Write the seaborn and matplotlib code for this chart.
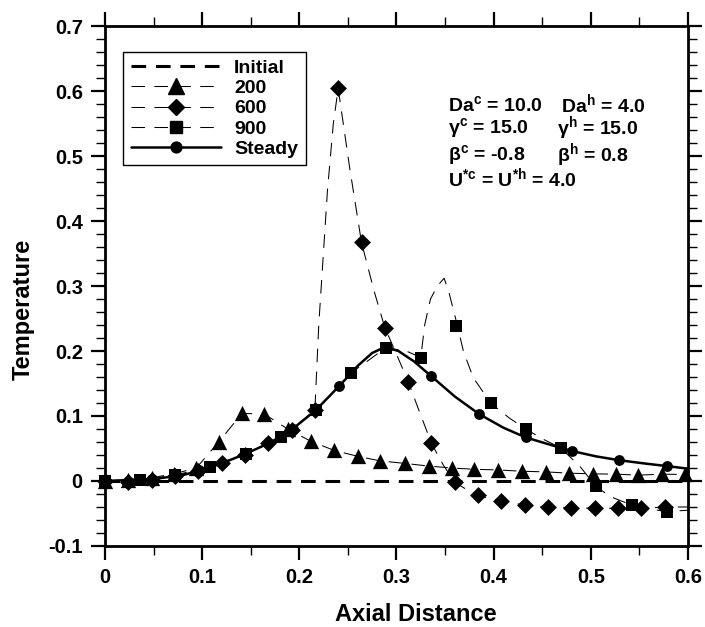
import numpy as np
import pandas as pd
import matplotlib
matplotlib.use("Agg")
import matplotlib.pyplot as plt
from matplotlib.lines import Line2D
from matplotlib.ticker import MultipleLocator
import seaborn as sns

# ---------------- data ----------------
x_ticks = [0, 0.1, 0.2, 0.3, 0.4, 0.5, 0.6]
x_tick_labels = ["0", "0.1", "0.2", "0.3", "0.4", "0.5", "0.6"]
y_ticks = [-0.1, 0, 0.1, 0.2, 0.3, 0.4, 0.5, 0.6, 0.7]
y_tick_labels = ["-0.1", "0", "0.1", "0.2", "0.3", "0.4", "0.5", "0.6", "0.7"]

series_labels = ["Initial", "200", "600", "900", "Steady"]

# Initial
init_x = [0.0, 0.6]
init_y = [0.0, 0.0]

# t = 200 (triangles)
t200_x = [0, 0.024, 0.048, 0.071, 0.094, 0.117, 0.141, 0.164, 0.188, 0.212, 0.236,
          0.26, 0.283, 0.309, 0.333, 0.357, 0.38, 0.404, 0.429, 0.454, 0.478,
          0.502, 0.526, 0.549, 0.573, 0.597]
t200_y = [0, 0.002, 0.005, 0.011, 0.020, 0.060, 0.104, 0.103, 0.080, 0.061, 0.047,
          0.038, 0.031, 0.027, 0.023, 0.020, 0.018, 0.017, 0.015, 0.014, 0.012,
          0.011, 0.0105, 0.009, 0.0105, 0.010]

# t = 600 (diamonds) - markers
t600_x = [0, 0.024, 0.048, 0.072, 0.096, 0.12, 0.144, 0.168, 0.192, 0.216, 0.24,
          0.264, 0.288, 0.312, 0.336, 0.36, 0.384, 0.408, 0.432, 0.456, 0.48,
          0.504, 0.528, 0.552, 0.576]
t600_y = [0, -0.001, 0.002, 0.008, 0.016, 0.027, 0.040, 0.058, 0.079, 0.109, 0.604,
          0.367, 0.236, 0.153, 0.058, -0.002, -0.022, -0.031, -0.037, -0.040, -0.041,
          -0.042, -0.042, -0.042, -0.040]
# t = 600 - curve
t600_line_x = [0, 0.024, 0.048, 0.072, 0.096, 0.12, 0.144, 0.168, 0.192, 0.216, 0.22,
               0.229, 0.235, 0.24, 0.252, 0.264, 0.277, 0.288, 0.30, 0.312, 0.324,
               0.336, 0.348, 0.36, 0.372, 0.384, 0.396, 0.408, 0.432, 0.456, 0.48,
               0.504, 0.528, 0.552, 0.576, 0.6]
t600_line_y = [0, -0.001, 0.002, 0.008, 0.016, 0.027, 0.040, 0.058, 0.079, 0.109, 0.24,
               0.448, 0.55, 0.604, 0.48, 0.367, 0.292, 0.236, 0.195, 0.153, 0.105,
               0.058, 0.025, -0.002, -0.013, -0.022, -0.027, -0.031, -0.037, -0.040, -0.041,
               -0.042, -0.042, -0.042, -0.040, -0.040]

# t = 900 (squares) - markers
t900_x = [0, 0.036, 0.072, 0.108, 0.145, 0.181, 0.217, 0.253, 0.289, 0.325, 0.361,
          0.397, 0.433, 0.469, 0.505, 0.542, 0.578]
t900_y = [0, 0.001, 0.009, 0.022, 0.042, 0.068, 0.109, 0.166, 0.205, 0.190, 0.239,
          0.120, 0.080, 0.051, -0.008, -0.037, -0.047]
# t = 900 - curve
t900_line_x = [0, 0.036, 0.072, 0.108, 0.145, 0.181, 0.217, 0.253, 0.289, 0.31, 0.325,
               0.329, 0.335, 0.342, 0.349, 0.354, 0.361, 0.369, 0.379, 0.397, 0.416,
               0.433, 0.45, 0.469, 0.489, 0.505, 0.52, 0.542, 0.56, 0.578, 0.6]
t900_line_y = [0, 0.001, 0.009, 0.022, 0.042, 0.068, 0.109, 0.166, 0.205, 0.20, 0.190,
               0.24, 0.28, 0.30, 0.312, 0.29, 0.249, 0.199, 0.159, 0.120, 0.097,
               0.080, 0.065, 0.051, 0.022, -0.008, -0.024, -0.037, -0.043, -0.047, -0.045]

# Steady (circles) - markers
st_x = [0, 0.048, 0.097, 0.145, 0.193, 0.241, 0.29, 0.336, 0.385, 0.433, 0.481,
        0.529, 0.578]
st_y = [0, 0.003, 0.017, 0.042, 0.080, 0.146, 0.205, 0.161, 0.103, 0.067, 0.046,
        0.032, 0.023]
# Steady - curve
st_line_x = [0, 0.05, 0.08, 0.1, 0.12, 0.145, 0.17, 0.193, 0.217, 0.241, 0.26, 0.275,
             0.288, 0.302, 0.318, 0.336, 0.36, 0.385, 0.41, 0.433, 0.46, 0.481, 0.505,
             0.529, 0.555, 0.578, 0.6]
st_line_y = [0, 0.003, 0.009, 0.017, 0.027, 0.042, 0.059, 0.080, 0.109, 0.146, 0.177,
             0.197, 0.206, 0.200, 0.184, 0.161, 0.130, 0.103, 0.082, 0.067, 0.055, 0.046,
             0.038, 0.032, 0.027, 0.023, 0.019]

param_lines = [
    (r"$\mathrm{Da}^{c}$ = 10.0", r"$\mathrm{Da}^{h}$ = 4.0"),
    (r"$\mathrm{γ}^{c}$ = 15.0", r"$\mathrm{γ}^{h}$ = 15.0"),
    (r"$\mathrm{β}^{c}$ = -0.8", r"$\mathrm{β}^{h}$ = 0.8"),
    (r"$\mathrm{U}^{*c}$ = $\mathrm{U}^{*h}$ = 4.0", None),
]

# ---------------- style ----------------
sns.set_theme(style="ticks")
plt.rcParams["font.family"] = ["Liberation Sans", "DejaVu Sans"]
plt.rcParams["font.weight"] = "bold"
plt.rcParams["mathtext.fontset"] = "custom"
plt.rcParams["mathtext.rm"] = "Liberation Sans:bold"
plt.rcParams["mathtext.it"] = "Liberation Sans:bold"
plt.rcParams["mathtext.bf"] = "Liberation Sans:bold"
for key in ["text.color", "axes.labelcolor", "xtick.color", "ytick.color",
            "xtick.labelcolor", "ytick.labelcolor", "axes.edgecolor"]:
    plt.rcParams[key] = "black"

fig = plt.figure(figsize=(7.05, 6.27), dpi=100)
ax = fig.add_axes([0.1489, 0.1292, 0.8270, 0.8293])

thin = dict(color="black", linewidth=0.75, linestyle=(0, (13, 9)))

# lines
sns.lineplot(x=init_x, y=init_y, ax=ax, color="black", linewidth=2.2,
             linestyle=(0, (4.8, 3.2)), sort=False, errorbar=None, zorder=2)
sns.lineplot(x=t200_x, y=t200_y, ax=ax, sort=False, errorbar=None, zorder=3, **thin)
sns.lineplot(x=t600_line_x, y=t600_line_y, ax=ax, sort=False, errorbar=None, zorder=3, **thin)
sns.lineplot(x=t900_line_x, y=t900_line_y, ax=ax, sort=False, errorbar=None, zorder=3, **thin)
sns.lineplot(x=st_line_x, y=st_line_y, ax=ax, color="black", linewidth=1.8,
             sort=False, errorbar=None, zorder=4)

# markers
ms_tri, ms_dia, ms_sq, ms_circ = 11.0, 8.6, 8.4, 7.8
sns.scatterplot(x=t200_x, y=t200_y, ax=ax, marker="^", s=ms_tri**2, color="black",
                linewidth=0, clip_on=False, zorder=5)
sns.scatterplot(x=t600_x, y=t600_y, ax=ax, marker="D", s=ms_dia**2, color="black",
                linewidth=0, clip_on=False, zorder=5)
sns.scatterplot(x=st_x, y=st_y, ax=ax, marker="o", s=ms_circ**2, color="black",
                linewidth=0, clip_on=False, zorder=5)
sns.scatterplot(x=t900_x, y=t900_y, ax=ax, marker="s", s=ms_sq**2, color="black",
                linewidth=0, clip_on=False, zorder=6)

# axes
ax.set_xlim(0, 0.6)
ax.set_ylim(-0.1, 0.7)
ax.set_xticks(x_ticks)
ax.set_xticklabels(x_tick_labels)
ax.set_yticks(y_ticks)
ax.set_yticklabels(y_tick_labels)
ax.xaxis.set_minor_locator(MultipleLocator(0.05))
ax.yaxis.set_minor_locator(MultipleLocator(0.02))
ax.tick_params(which="major", direction="out", length=10, width=1.6,
               top=True, right=True, labelsize=14.5, pad=6, color="black",
               labelcolor="black")
ax.tick_params(which="minor", direction="out", length=6.5, width=1.0,
               top=True, right=True, color="black")
for lab in ax.get_xticklabels() + ax.get_yticklabels():
    lab.set_fontweight("bold")
for sp in ax.spines.values():
    sp.set_visible(True)
    sp.set_linewidth(2.0)
    sp.set_color("black")

ax.set_xlabel("Axial Distance", fontsize=17, fontweight="bold", color="black")
ax.set_ylabel("Temperature", fontsize=17, fontweight="bold", color="black")
ax.xaxis.label.set_va("center")
ax.xaxis.label.set_ha("center")
ax.yaxis.label.set_va("center")
ax.yaxis.label.set_ha("center")
ax.xaxis.set_label_coords(0.533, -0.131)
ax.yaxis.set_label_coords(-0.141, 0.456)

# legend
handles = [
    Line2D([], [], color="black", linewidth=2.2, linestyle=(0, (4.8, 3.2))),
    Line2D([], [], color="black", linewidth=0.75, linestyle=(0, (13, 9)),
           marker="^", markersize=ms_tri),
    Line2D([], [], color="black", linewidth=0.75, linestyle=(0, (13, 9)),
           marker="D", markersize=ms_dia),
    Line2D([], [], color="black", linewidth=0.75, linestyle=(0, (13, 9)),
           marker="s", markersize=ms_sq),
    Line2D([], [], color="black", linewidth=1.8, linestyle="-",
           marker="o", markersize=ms_circ),
]
leg = ax.legend(handles, series_labels, loc="upper left",
                bbox_to_anchor=(0.0314, 0.9506), borderaxespad=0,
                prop={"weight": "bold", "size": 14}, numpoints=1,
                handlelength=4.6, handletextpad=0.7, labelspacing=0.13,
                borderpad=0.4, frameon=True, fancybox=False, framealpha=1)
leg.get_frame().set_edgecolor("black")
leg.get_frame().set_linewidth(1.0)
for t in leg.get_texts():
    t.set_color("black")

# parameter text
row_y = [0.849, 0.804, 0.752, 0.707]
col1_x = 0.588
col2_x = [0.782, 0.775, 0.775, None]
for (a, b), yy, cx in zip(param_lines, row_y, col2_x):
    ax.text(col1_x, yy, a, transform=ax.transAxes, fontsize=14, fontweight="bold",
            va="center", ha="left", color="black")
    if b is not None:
        ax.text(cx, yy, b, transform=ax.transAxes, fontsize=14, fontweight="bold",
                va="center", ha="left", color="black")

fig.savefig("out.png", dpi=100)
